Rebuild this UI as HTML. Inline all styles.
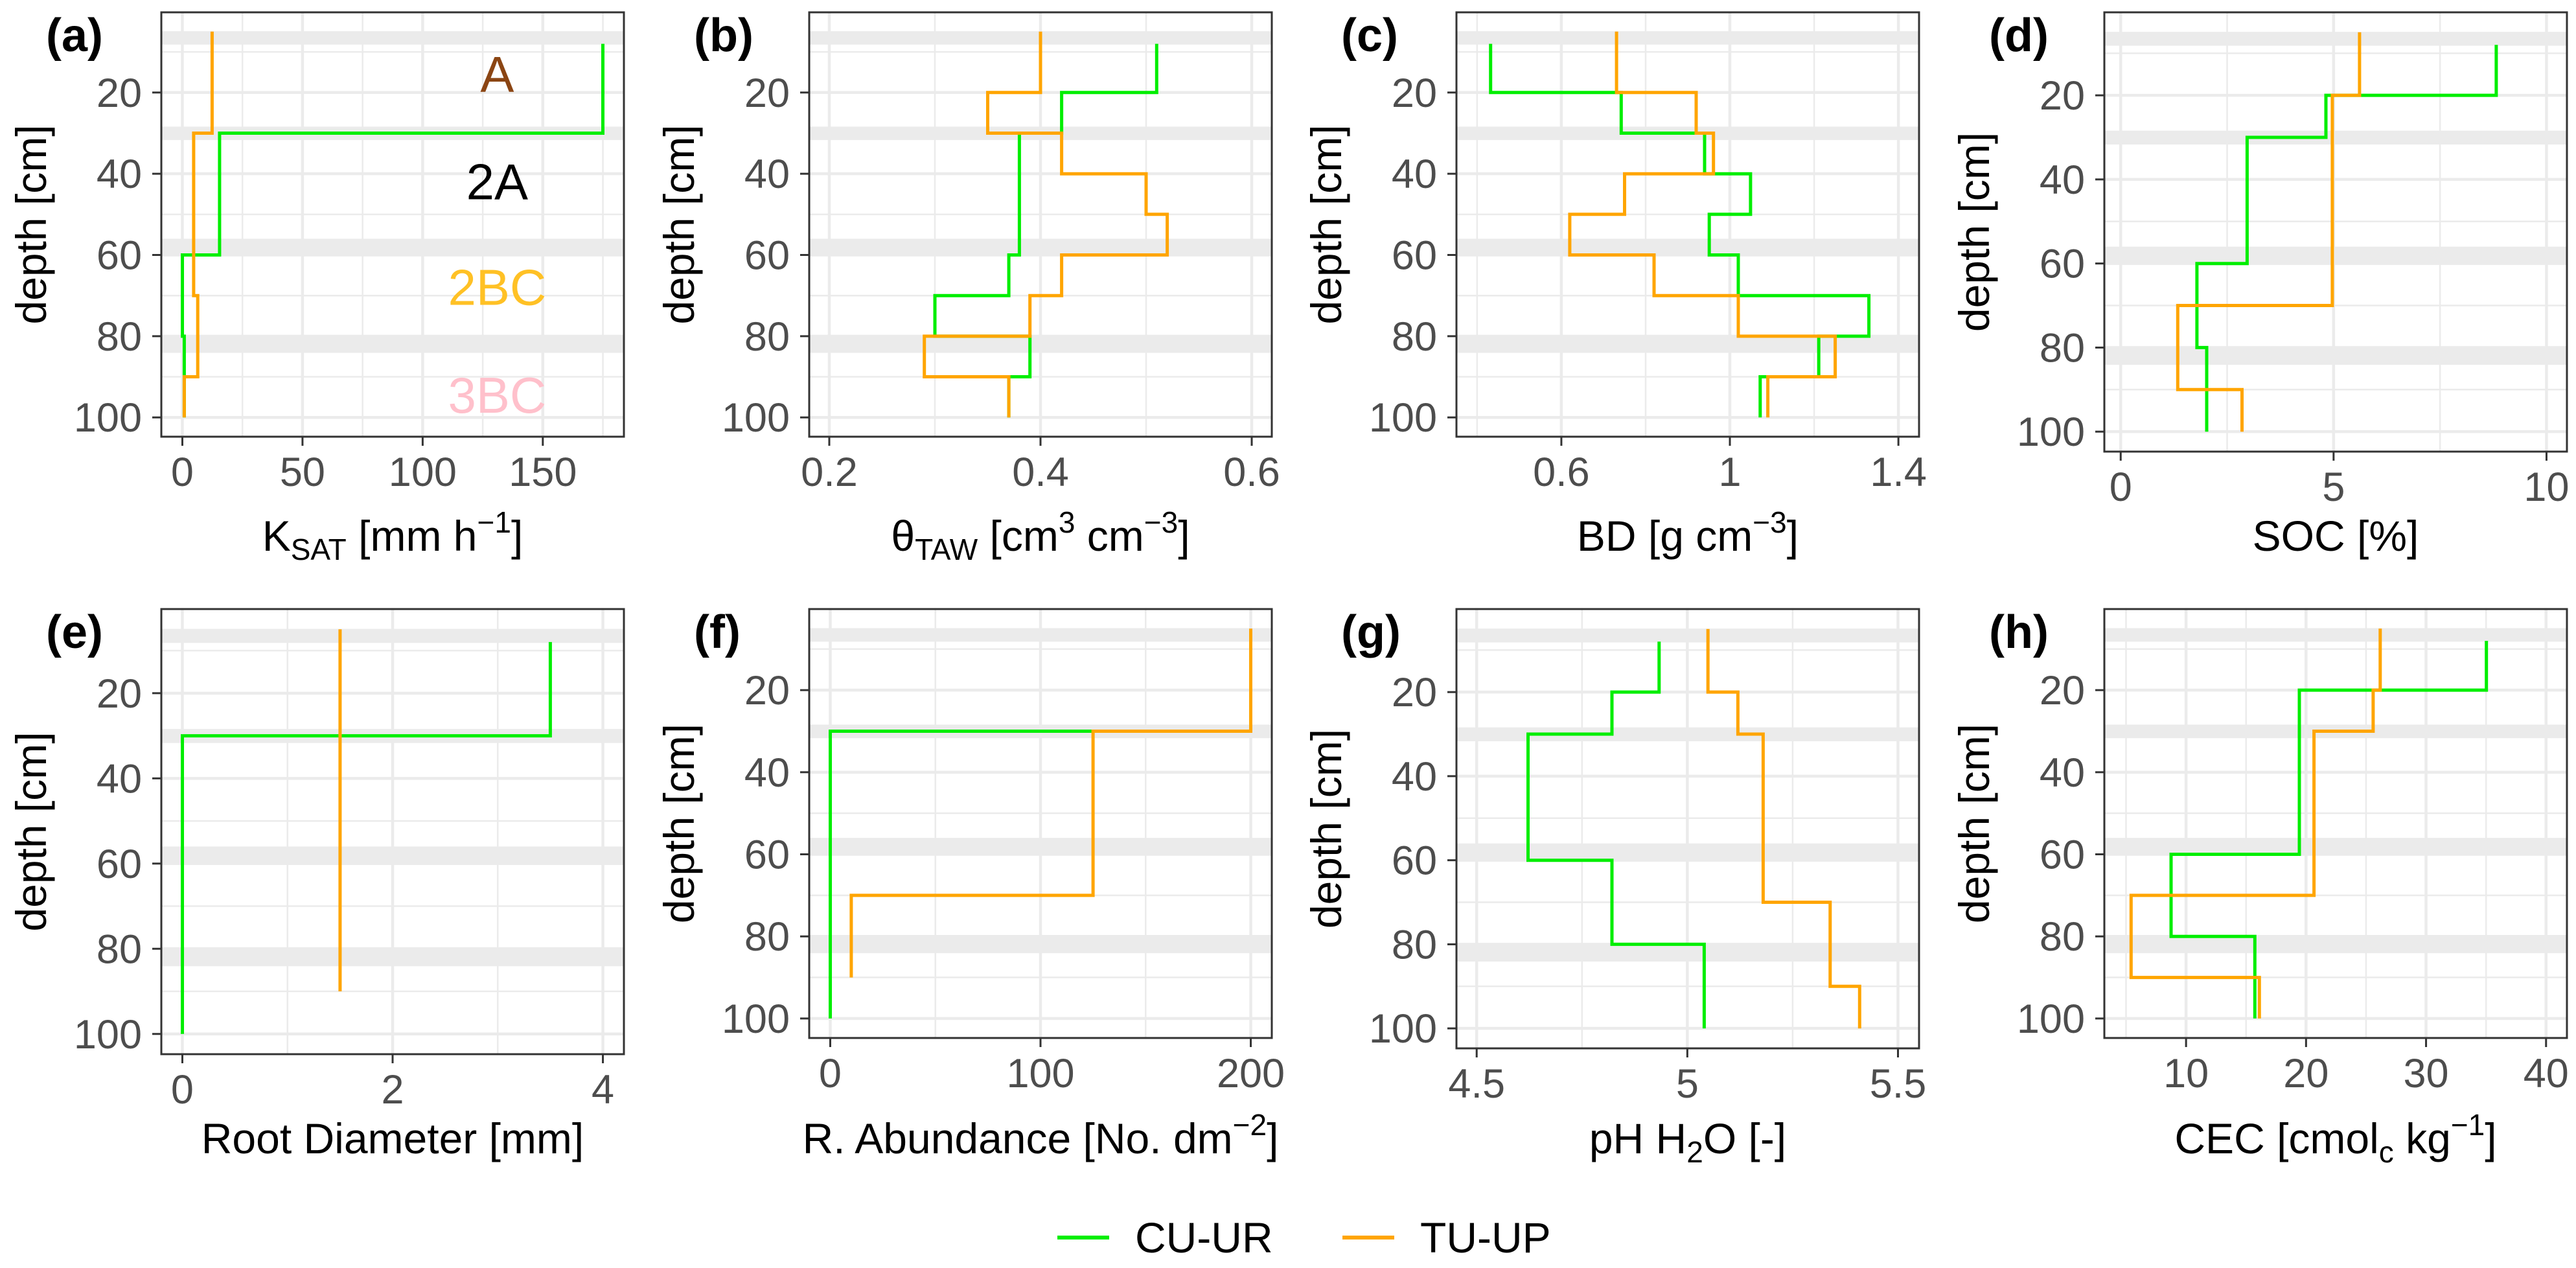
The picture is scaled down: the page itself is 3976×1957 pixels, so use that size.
<!DOCTYPE html>
<html><head><meta charset="utf-8"><title>Soil profiles</title>
<style>
html,body{margin:0;padding:0;background:#fff;}
svg{display:block;font-family:"Liberation Sans",Arial,sans-serif;}
</style></head>
<body>
<svg id="chart" xmlns="http://www.w3.org/2000/svg" width="3976" height="1957" viewBox="0 0 3976 1957">
<rect x="0" y="0" width="3976" height="1957" fill="#fff"/>
<g>
  <line x1="1632" y1="1910" x2="1712" y2="1910" stroke="#00EE00" stroke-width="6"/>
  <text x="1752" y="1933" font-size="66" fill="#000">CU-UR</text>
  <line x1="2072" y1="1910" x2="2152" y2="1910" stroke="#FFA500" stroke-width="6"/>
  <text x="2192" y="1933" font-size="66" fill="#000">TU-UP</text>
</g>
</svg>
<script>
// ---------- data ----------
const depthG = [8,20,30,40,50,60,70,80,90,100];
const depthO = [5,20,30,40,50,60,70,80,90,100];
const depthOShort = [5,20,30,40,50,60,70,80,90];
const depthGf = [30,30,40,50,60,70,80,90,100];

const ksatG = [175,175,15.5,15.5,15.5,0,0,0.8,0.8,0.8];
const ksatO = [12.4,12.4,4.7,4.7,4.7,4.7,6.4,6.4,0.8,0.8];
const tawG = [0.51,0.42,0.38,0.38,0.38,0.37,0.30,0.39,0.37,0.37];
const tawO = [0.40,0.35,0.42,0.50,0.52,0.42,0.39,0.29,0.37,0.37];
const bdG = [0.432,0.742,0.94,1.049,0.951,1.02,1.33,1.211,1.072,1.072];
const bdO = [0.731,0.92,0.961,0.75,0.62,0.82,1.02,1.25,1.09,1.09];
const socG = [8.82,4.82,2.97,2.97,2.97,1.79,1.79,2.02,2.02,2.02];
const socO = [5.61,4.97,4.97,4.97,4.97,4.97,1.34,1.34,2.85,2.85];
const rdG = [3.5,3.5,0,0,0,0,0,0,0,0];
const rdO = [1.5,1.5,1.5,1.5,1.5,1.5,1.5,1.5,1.5];
const raG = [125,0,0,0,0,0,0,0,0];
const raO = [200,200,125,125,125,125,10,10,10];
const phG = [4.933,4.821,4.622,4.622,4.622,4.821,4.821,5.04,5.04,5.04];
const phO = [5.049,5.12,5.18,5.18,5.18,5.18,5.339,5.339,5.409,5.409];
const cecG = [35.03,19.44,19.44,19.44,19.44,8.75,8.75,15.73,15.73,15.73];
const cecO = [26.18,25.59,20.66,20.66,20.66,20.66,5.42,5.42,16.11,16.11];

const bandTop = [4.9,28.4,56,80];
const bandBottom = [8.2,31.7,60.3,84.1];

const yTicks = [20,40,60,80,100];
const yMinor = [10,30,50,70,90];

const ticksA = [0,50,100,150]; const minorA = [25,75,125,175];
const ticksB = [0.2,0.4,0.6]; const minorB = [0.3,0.5];
const ticksC = [0.6,1,1.4]; const minorC = [0.4,0.8,1.2];
const ticksD = [0,5,10]; const minorD = [2.5,7.5];
const ticksE = [0,2,4]; const minorE = [1,3];
const ticksF = [0,100,200]; const minorF = [50,150];
const ticksG = [4.5,5,5.5]; const minorG = [4.75,5.25];
const ticksH = [10,20,30,40]; const minorH = [5,15,25,35];

const horizonNames = ["A","2A","2BC","3BC"];
const horizonDepth = [15.5,42,68,94.5];
const horizonX = 131;

// ---------- layout ----------
const NS = "http://www.w3.org/2000/svg";
const svg = document.getElementById("chart");
const W = 714;
const Y0 = 0.25, Y1 = 104.75;
const panels = [
 {id:"a",left:249,top:19,bottom:674,dom:[-8.75,183.75],ticks:ticksA,minor:minorA,g:ksatG,gd:depthG,o:ksatO,od:depthO,name:"ksat",
  title:'K<tspan dy="14" font-size="46">SAT</tspan><tspan dy="-14"> [mm h</tspan><tspan dy="-28" font-size="46">−1</tspan><tspan dy="28">]</tspan>'},
 {id:"b",left:1249,top:19,bottom:674,dom:[0.181,0.619],ticks:ticksB,minor:minorB,g:tawG,gd:depthG,o:tawO,od:depthO,name:"taw",
  title:'θ<tspan dy="14" font-size="46">TAW</tspan><tspan dy="-14"> [cm</tspan><tspan dy="-28" font-size="46">3</tspan><tspan dy="28"> cm</tspan><tspan dy="-28" font-size="46">−3</tspan><tspan dy="28">]</tspan>'},
 {id:"c",left:2248,top:19,bottom:674,dom:[0.351,1.449],ticks:ticksC,minor:minorC,g:bdG,gd:depthG,o:bdO,od:depthO,name:"bd",
  title:'BD [g cm<tspan dy="-28" font-size="46">−3</tspan><tspan dy="28">]</tspan>'},
 {id:"d",left:3248,top:19,bottom:697,dom:[-0.384,10.48],ticks:ticksD,minor:minorD,g:socG,gd:depthG,o:socO,od:depthO,name:"soc",
  title:'SOC [%]'},
 {id:"e",left:249,top:940,bottom:1627,dom:[-0.2,4.2],ticks:ticksE,minor:minorE,g:rdG,gd:depthG,o:rdO,od:depthOShort,name:"root-diameter",
  title:'Root Diameter [mm]'},
 {id:"f",left:1249,top:940,bottom:1602,dom:[-10,210],ticks:ticksF,minor:minorF,g:raG,gd:depthGf,o:raO,od:depthOShort,name:"root-abundance",
  title:'R. Abundance [No. dm<tspan dy="-28" font-size="46">−2</tspan><tspan dy="28">]</tspan>'},
 {id:"g",left:2248,top:940,bottom:1618,dom:[4.452,5.55],ticks:ticksG,minor:minorG,g:phG,gd:depthG,o:phO,od:depthO,name:"ph",
  title:'pH H<tspan dy="14" font-size="46">2</tspan><tspan dy="-14">O [-]</tspan>'},
 {id:"h",left:3248,top:940,bottom:1602,dom:[3.19,41.74],ticks:ticksH,minor:minorH,g:cecG,gd:depthG,o:cecO,od:depthO,name:"cec",
  title:'CEC [cmol<tspan dy="14" font-size="46">c</tspan><tspan dy="-14"> kg</tspan><tspan dy="-28" font-size="46">−1</tspan><tspan dy="28">]</tspan>'}
];

function mk(tag, attrs, parent){
  const el = document.createElementNS(NS, tag);
  for (const k in attrs) el.setAttribute(k, attrs[k]);
  parent.appendChild(el);
  return el;
}

panels.forEach(p => {
  const right = p.left + W;
  const xs = v => p.left + (v - p.dom[0]) / (p.dom[1] - p.dom[0]) * W;
  const ys = d => p.top + (d - Y0) / (Y1 - Y0) * (p.bottom - p.top);
  const titleBase = p.top < 500 ? 850 : 1780;

  const g = mk("g", {}, svg);
  
  

  // minor grid
  p.minor.forEach(v => {
    const l = mk("line", {x1:xs(v),x2:xs(v),y1:p.top,y2:p.bottom,stroke:"#EBEBEB","stroke-width":2.5}, g);
    
    
  });
  yMinor.forEach(d => {
    const l = mk("line", {x1:p.left,x2:right,y1:ys(d),y2:ys(d),stroke:"#EBEBEB","stroke-width":2.5}, g);
    
    
  });
  // major grid
  p.ticks.forEach(v => {
    const l = mk("line", {x1:xs(v),x2:xs(v),y1:p.top,y2:p.bottom,stroke:"#EBEBEB","stroke-width":4.5}, g);
    
    
  });
  yTicks.forEach(d => {
    const l = mk("line", {x1:p.left,x2:right,y1:ys(d),y2:ys(d),stroke:"#EBEBEB","stroke-width":4.5}, g);
    
    
  });
  // horizon boundary bands
  bandTop.forEach((t, i) => {
    const r = mk("rect", {x:p.left,y:ys(t),width:W,height:ys(bandBottom[i]) - ys(t),fill:"#EBEBEB"}, g);
    
    
  });

  // series as step paths
  function stepPath(vals, deps){
    let d = "M" + xs(vals[0]).toFixed(1) + "," + ys(deps[0]).toFixed(1);
    for (let i = 1; i < vals.length; i++){
      d += " L" + xs(vals[i-1]).toFixed(1) + "," + ys(deps[i]).toFixed(1);
      d += " L" + xs(vals[i]).toFixed(1) + "," + ys(deps[i]).toFixed(1);
    }
    return d;
  }
  const pg = mk("path", {d:stepPath(p.g, p.gd),fill:"none",stroke:"#00EE00","stroke-width":5}, g);
  
  
  const po = mk("path", {d:stepPath(p.o, p.od),fill:"none",stroke:"#FFA500","stroke-width":5}, g);
  
  

  // border
  const b = mk("rect", {x:p.left,y:p.top,width:W,height:p.bottom - p.top,fill:"none",stroke:"#333333","stroke-width":3}, g);
  
  

  // y ticks
  yTicks.forEach(d => {
    const t = mk("line", {x1:p.left - 14,x2:p.left,y1:ys(d),y2:ys(d),stroke:"#333333","stroke-width":3}, g);
    
    
    const tx = mk("text", {x:p.left - 30,y:ys(d) + 22,"font-size":63,fill:"#4D4D4D","text-anchor":"end"}, g);
    tx.textContent = String(d);
    
    
  });
  // x ticks
  p.ticks.forEach(v => {
    const t = mk("line", {x1:xs(v),x2:xs(v),y1:p.bottom,y2:p.bottom + 14,stroke:"#333333","stroke-width":3}, g);
    
    
    const tx = mk("text", {x:xs(v),y:p.bottom + 76,"font-size":63,fill:"#4D4D4D","text-anchor":"middle"}, g);
    tx.textContent = String(v);
    
    
  });

  // titles
  const xt = mk("text", {x:p.left + W/2,y:titleBase,"font-size":66,fill:"#000","text-anchor":"middle"}, g);
  xt.innerHTML = p.title;
  
  
  const cy = (p.top + p.bottom) / 2;
  const cx = p.left - 201;
  const yt = mk("text", {x:cx,y:cy,"font-size":66,fill:"#000","text-anchor":"middle","dominant-baseline":"central",transform:"rotate(-90 " + cx + " " + cy + ")"}, g);
  yt.textContent = "depth [cm]";
  
  
  const tag = mk("text", {x:p.left - 178,y:p.top + 60,"font-size":72,"font-weight":"bold",fill:"#000"}, g);
  tag.textContent = "(" + p.id + ")";
  
  

  if (p.id === "a"){
    const cols = ["#8B4513","#000000","#FFC125","#FFC0CB"];
    horizonNames.forEach((nm, i) => {
      const ht = mk("text", {x:xs(horizonX),y:ys(horizonDepth[i]),"font-size":78,fill:cols[i],"text-anchor":"middle","dominant-baseline":"central"}, g);
      ht.textContent = nm;
      
      
    });
  }
});
</script>
</body></html>
